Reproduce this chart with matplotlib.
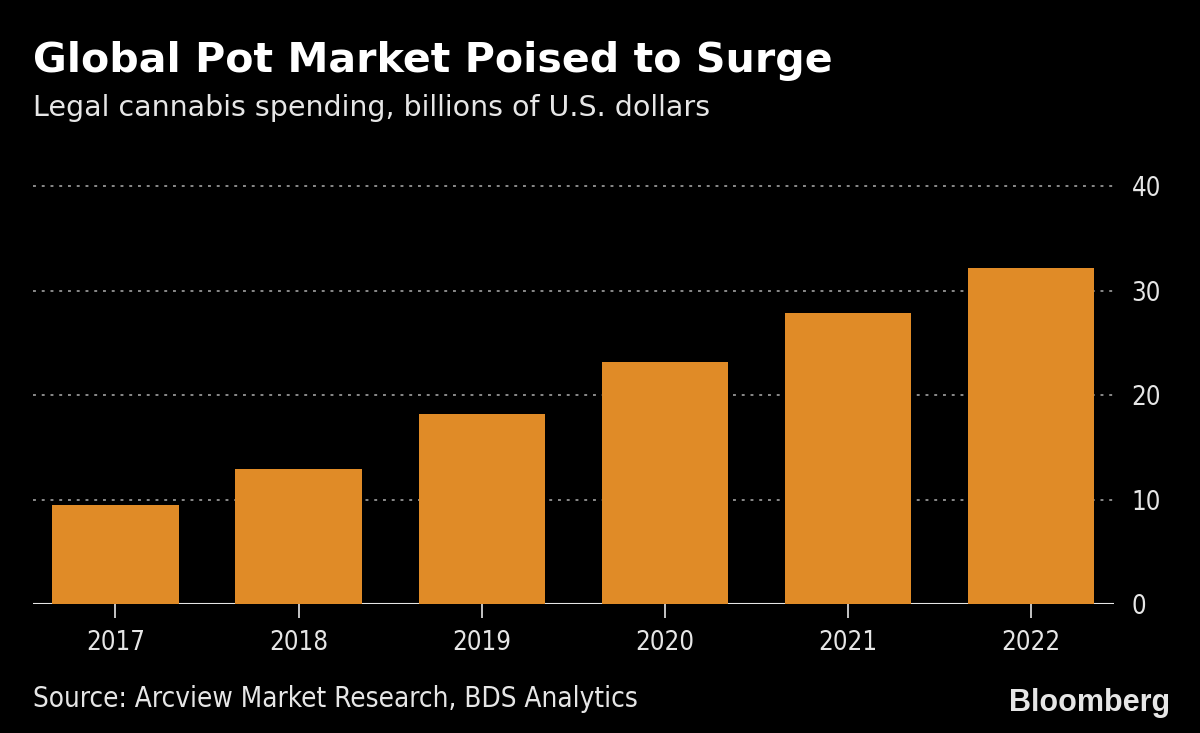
import matplotlib.pyplot as plt

years = ["2017", "2018", "2019", "2020", "2021", "2022"]
spending = [9.5, 12.9, 18.2, 23.2, 27.9, 32.2]
y_ticks = [0, 10, 20, 30, 40]

bg = "black"
bar_color = "#E08B27"
text_color = "#E6E6E6"
grid_color = "#8A8A8A"

fig = plt.figure(figsize=(12, 7.33), dpi=100, facecolor=bg)
ax = fig.add_axes([0.0275, 0.176, 0.9005, 0.570], facecolor=bg)

x = range(len(years))
ax.bar(x, spending, width=0.69, color=bar_color, zorder=3)

ax.set_xlim(-0.45, len(years) - 0.55)
ax.set_ylim(0, 40)
ax.set_xticks(list(x))
ax.set_xticklabels(years, fontsize=18.5, color=text_color, family="DejaVu Sans",
                   fontstretch="condensed")
ax.set_yticks(y_ticks)
ax.set_yticklabels([str(v) for v in y_ticks], fontsize=18.5, color=text_color,
                   family="DejaVu Sans", fontstretch="condensed")
ax.yaxis.tick_right()
ax.tick_params(axis="y", length=0, pad=13)
ax.tick_params(axis="x", length=10, width=1.2, color=text_color, pad=9)

for v in y_ticks[1:]:
    ax.axhline(v, color=grid_color, lw=1.4, ls=(0, (1.5, 3)), zorder=1, clip_on=False)
ax.axhline(0, color=text_color, lw=1.5, zorder=2)

for s in ax.spines.values():
    s.set_visible(False)

fig.text(0.0275, 0.902, "Global Pot Market Poised to Surge", fontsize=29.6, weight="bold",
         color="white", family="DejaVu Sans")
fig.text(0.0275, 0.842, "Legal cannabis spending, billions of U.S. dollars", fontsize=20.5,
         color=text_color, family="DejaVu Sans")
fig.text(0.0275, 0.035, "Source: Arcview Market Research, BDS Analytics", fontsize=20,
         color=text_color, family="DejaVu Sans", fontstretch="condensed")
fig.text(0.975, 0.03, "Bloomberg", fontsize=22, weight="bold", color=text_color,
         family="Liberation Sans", ha="right")

fig.savefig("out.png", dpi=100, facecolor=bg)
